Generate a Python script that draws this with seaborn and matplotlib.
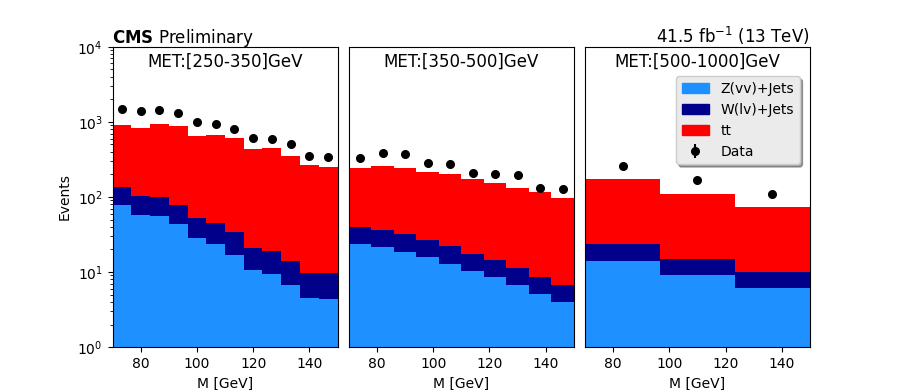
import matplotlib
matplotlib.use("Agg")
import matplotlib.pyplot as plt
import matplotlib.patches as mpatches
import seaborn as sns
import numpy as np
import pandas as pd

# bin edges (M [GeV]) for the three MET regions
edges_1 = [70, 76.67, 83.33, 90, 96.67, 103.33, 110, 116.67, 123.33, 130, 136.67, 143.33, 150]
edges_2 = [70, 78, 86, 94, 102, 110, 118, 126, 134, 142, 150]
edges_3 = [70, 96.67, 123.33, 150]

# MET 250-350
zjets_1 = [79, 58, 55, 44, 28.6, 23.8, 16.9, 10.7, 9.5, 6.7, 4.5, 4.4]
wjets_1 = [57, 46, 45, 34, 23.8, 21.1, 17.1, 9.9, 9.5, 7.2, 5.3, 5.2]
ttbar_1 = [779, 730, 844, 809, 600, 628, 567, 421, 423, 339, 257, 244]
data_1 = [1482, 1393, 1437, 1310, 993, 934, 801, 607, 589, 505, 349, 338]

# MET 350-500
zjets_2 = [23.8, 21.7, 18.6, 15.9, 12.7, 10.4, 8.6, 6.7, 5.1, 4.0]
wjets_2 = [15.9, 14.5, 13.4, 10.7, 9.4, 6.9, 5.8, 4.5, 3.4, 2.7]
ttbar_2 = [204, 223, 212, 189, 181, 157, 140, 121, 108, 90]
data_2 = [328, 383, 371, 281, 273, 207, 201, 194, 130, 126]

# MET 500-1000
zjets_3 = [14.0, 9.1, 6.1]
wjets_3 = [9.6, 5.7, 3.9]
ttbar_3 = [150, 95, 64]
data_3 = [257, 167, 108]

regions = ["MET:[250-350]GeV", "MET:[350-500]GeV", "MET:[500-1000]GeV"]
processes = ["Z(vv)+Jets", "W(lv)+Jets", "tt"]
colors = {"Z(vv)+Jets": "dodgerblue", "W(lv)+Jets": "darkblue", "tt": "red"}

panels = [
    (edges_1, zjets_1, wjets_1, ttbar_1, data_1),
    (edges_2, zjets_2, wjets_2, ttbar_2, data_2),
    (edges_3, zjets_3, wjets_3, ttbar_3, data_3),
]

fig, axes = plt.subplots(1, 3, figsize=(9, 3.9), dpi=100, sharey=True)
fig.subplots_adjust(left=0.125, right=0.9, top=0.88, bottom=0.11, wspace=0.05)

for i, (edges, zj, wj, tt, data) in enumerate(panels):
    ax = axes[i]
    e = np.array(edges)
    centers = 0.5 * (e[1:] + e[:-1])
    df = pd.DataFrame({
        "M": np.tile(centers, 3),
        "events": zj + wj + tt,
        "process": np.repeat(processes, len(centers)),
    })
    sns.histplot(data=df, x="M", weights="events", hue="process",
                 hue_order=processes[::-1], palette=colors, bins=list(edges),
                 multiple="stack", element="bars", alpha=1, linewidth=0,
                 shrink=1, legend=False, ax=ax)
    ax.errorbar(centers, data, yerr=np.sqrt(data), fmt="o", color="black",
                markersize=5.5, label="Data")
    ax.set_yscale("log")
    ax.set_ylim(1, 1e4)
    ax.set_xlim(70, 150)
    ax.set_xticks([80, 100, 120, 140])
    ax.set_xlabel("M [GeV]")
    ax.text(0.5, 0.98, regions[i], transform=ax.transAxes, ha="center",
            va="top", fontsize=12)
    if i == 0:
        ax.set_ylabel("Events")
    else:
        ax.set_ylabel("")
        ax.tick_params(axis="y", which="both", left=False, labelleft=False)

axes[0].text(0, 1.014, r"$\bf{CMS}$ Preliminary", transform=axes[0].transAxes,
             ha="left", va="baseline", fontsize=12)
axes[2].text(1, 1.014, r"41.5 fb$^{-1}$ (13 TeV)", transform=axes[2].transAxes,
             ha="right", va="baseline", fontsize=12)

handles = [mpatches.Patch(color=colors[p], label=p) for p in processes]
err = axes[2].get_legend_handles_labels()[0][0]
handles.append(err)
leg = axes[2].legend(handles=handles, labels=processes + ["Data"],
                     loc="upper right", bbox_to_anchor=(0.985, 0.925),
                     shadow=True, fancybox=True, facecolor="#ebebeb",
                     edgecolor="#cccccc", framealpha=1)

fig.savefig("out.png", dpi=100)
